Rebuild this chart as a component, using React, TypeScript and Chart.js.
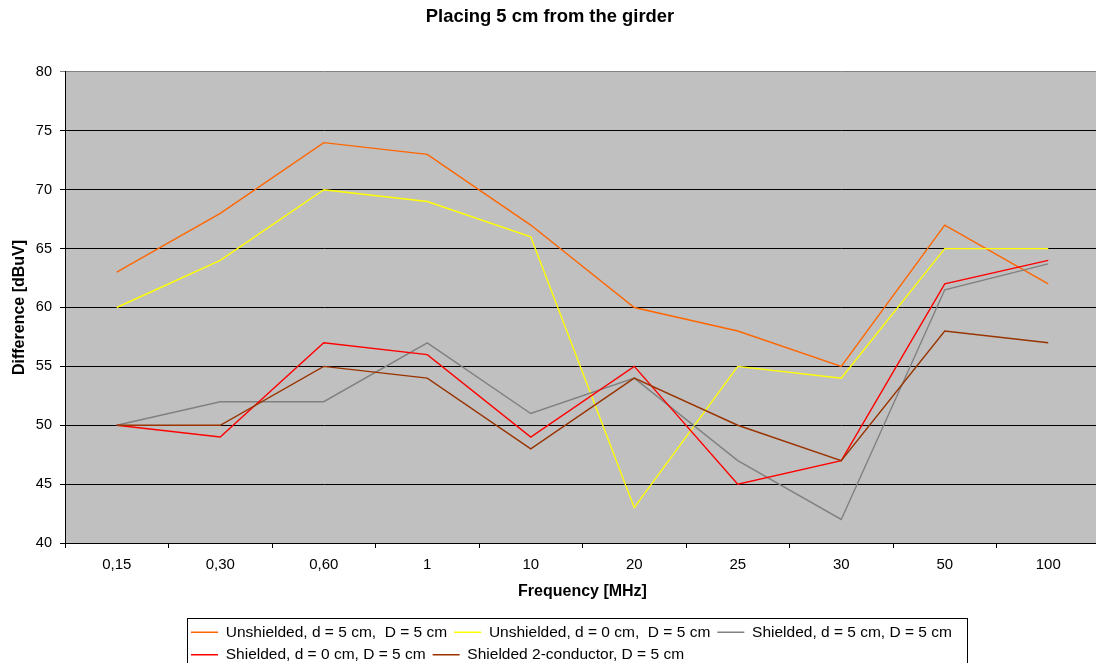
import React, { useEffect, useRef } from 'react';
import { Chart, registerables } from 'chart.js';

Chart.register(...registerables);

// ---- Data ----
const chartTitle = 'Placing 5 cm from the girder';
const xTitle = 'Frequency [MHz]';
const yTitle = 'Difference [dBuV]';

const categories = ['0,15', '0,30', '0,60', '1', '10', '20', '25', '30', '50', '100'];

const seriesLabels = [
  'Unshielded, d = 5 cm,  D = 5 cm',
  'Unshielded, d = 0 cm,  D = 5 cm',
  'Shielded, d = 5 cm, D = 5 cm',
  'Shielded, d = 0 cm, D = 5 cm',
  'Shielded 2-conductor, D = 5 cm',
];

const unshieldedD5 = [63, 68, 74, 73, 67, 60, 58, 55, 67, 62];
const unshieldedD0 = [60, 64, 70, 69, 66, 43, 55, 54, 65, 65];
const shieldedD5 = [50, 52, 52, 57, 51, 54, 47, 42, 61.5, 63.7];
const shieldedD0 = [50, 49, 57, 56, 49, 55, 45, 47, 62, 64];
const shielded2c = [50, 50, 55, 54, 48, 54, 50, 47, 58, 57];

const seriesColors = ['#FF6600', '#FFFF00', '#808080', '#FF0000', '#993300'];

const yMin = 40;
const yMax = 80;
const yStep = 5;

// ---- Layout / style ----
const FONT = "'Liberation Sans', Arial, sans-serif";
const CANVAS_W = 1100;
const CANVAS_H = 663;
const PLOT_BOTTOM = 543;
const Y_AXIS_W = 65;

export default function App() {
  const ref = useRef<HTMLCanvasElement>(null);

  useEffect(() => {
    document.body.style.margin = '0';
    document.documentElement.style.overflow = 'hidden';
    const canvas = ref.current;
    if (!canvas) return;

    const seriesData = [unshieldedD5, unshieldedD0, shieldedD5, shieldedD0, shielded2c];

    const excelPlugin = {
      id: 'excelStyle',
      beforeDraw(chart: any) {
        const { ctx, chartArea: a } = chart;
        ctx.save();
        ctx.fillStyle = '#C0C0C0';
        ctx.fillRect(a.left, a.top, a.right - a.left, a.bottom - a.top);
        ctx.restore();
      },
      afterLayout(chart: any) {
        const lg = chart.legend;
        if (!lg) return;
        const h = lg.bottom - lg.top;
        lg.left = 184;
        lg.right = 967;
        lg.width = lg.right - lg.left;
        lg.top = 617.5;
        lg.bottom = lg.top + h;
        lg.height = h;
      },
      afterDraw(chart: any) {
        const lg = chart.legend;
        if (!lg) return;
        const ctx = chart.ctx;
        ctx.save();
        ctx.strokeStyle = '#000';
        ctx.lineWidth = 1;
        ctx.strokeRect(lg.left + 3.5, lg.top + 1, lg.right - lg.left - 3, 80);
        ctx.restore();
      },
    };

    const chart = new Chart(canvas, {
      type: 'line',
      data: {
        labels: categories,
        datasets: seriesLabels.map((label, i) => ({
          label,
          data: seriesData[i],
          borderColor: seriesColors[i],
          backgroundColor: seriesColors[i],
          borderWidth: 1.4,
          pointRadius: 0,
          pointHoverRadius: 0,
          tension: 0,
          fill: false,
          order: seriesLabels.length - i,
        })),
      },
      options: {
        responsive: false,
        animation: false,
        devicePixelRatio: 1,
        events: [],
        layout: { padding: 0 },
        plugins: {
          title: {
            display: true,
            text: chartTitle,
            color: '#000',
            font: { family: FONT, size: 18.4, weight: 'bold' },
            padding: { top: 6.3, bottom: 43.6 },
          },
          legend: {
            display: true,
            position: 'bottom',
            align: 'start',
            labels: {
              color: '#000',
              font: { family: FONT, size: 15.5 },
              usePointStyle: true,
              pointStyle: 'line',
              pointStyleWidth: 27,
              boxWidth: 27,
              padding: 7,
              sort: (a: any, b: any) => a.datasetIndex - b.datasetIndex,
            },
          },
          tooltip: { enabled: false },
        },
        scales: {
          x: {
            type: 'category',
            offset: true,
            grid: {
              offset: true,
              drawOnChartArea: false,
              drawTicks: true,
              tickLength: 5,
              color: '#000',
            },
            border: { display: true, color: '#000', width: 1 },
            ticks: {
              color: '#000',
              font: { family: FONT, size: 15 },
              padding: 8,
              maxRotation: 0,
              autoSkip: false,
            },
            title: {
              display: true,
              text: xTitle,
              color: '#000',
              font: { family: FONT, size: 16, weight: 'bold' },
              padding: { top: 4, bottom: 6.5 },
            },
            afterFit: (s: any) => {
              const lgH = s.chart.legend ? s.chart.legend.height : 0;
              s.height = CANVAS_H - PLOT_BOTTOM - lgH;
            },
          },
          y: {
            min: yMin,
            max: yMax,
            ticks: {
              stepSize: yStep,
              color: '#000',
              font: { family: FONT, size: 14.5 },
              padding: 8,
            },
            grid: {
              color: (c: any) => (c.tick && c.tick.value === yMax ? '#808080' : '#000'),
              lineWidth: 1,
              tickLength: 5,
              drawTicks: true,
            },
            border: { display: true, color: '#000', width: 1 },
            title: {
              display: true,
              text: yTitle,
              color: '#000',
              font: { family: FONT, size: 16, weight: 'bold' },
              padding: { top: 10.4, bottom: 0 },
            },
            afterFit: (s: any) => {
              s.width = Y_AXIS_W;
            },
          },
        },
      } as any,
      plugins: [excelPlugin],
    });

    return () => chart.destroy();
  }, []);

  return (
    <div style={{ width: 1096, height: CANVAS_H, overflow: 'hidden', background: '#fff' }}>
      <canvas ref={ref} width={CANVAS_W} height={CANVAS_H} style={{ display: 'block' }} />
    </div>
  );
}
